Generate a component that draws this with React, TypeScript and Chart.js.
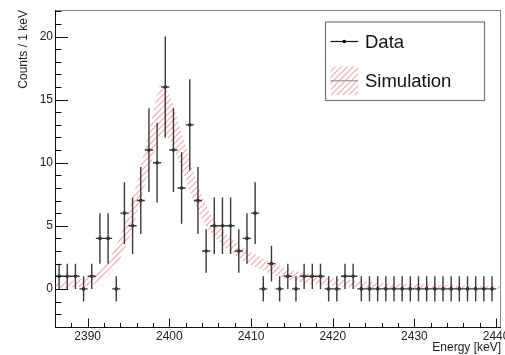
import React, { useEffect, useRef } from "react";
import { Chart, registerables } from "chart.js";

Chart.register(...registerables);

// ---- Data ----
const binCenters = [
  2386.5, 2387.5, 2388.5, 2389.5, 2390.5, 2391.5, 2392.5, 2393.5, 2394.5, 2395.5,
  2396.5, 2397.5, 2398.5, 2399.5, 2400.5, 2401.5, 2402.5, 2403.5, 2404.5, 2405.5,
  2406.5, 2407.5, 2408.5, 2409.5, 2410.5, 2411.5, 2412.5, 2413.5, 2414.5, 2415.5,
  2416.5, 2417.5, 2418.5, 2419.5, 2420.5, 2421.5, 2422.5, 2423.5, 2424.5, 2425.5,
  2426.5, 2427.5, 2428.5, 2429.5, 2430.5, 2431.5, 2432.5, 2433.5, 2434.5, 2435.5,
  2436.5, 2437.5, 2438.5, 2439.5,
];
const counts = [
  1, 1, 1, 0, 1, 4, 4, 0, 6, 5,
  7, 11, 10, 16, 11, 8, 13, 7, 3, 5,
  5, 5, 3, 4, 6, 0, 2, 0, 1, 0,
  1, 1, 1, 0, 0, 1, 1, 0, 0, 0,
  0, 0, 0, 0, 0, 0, 0, 0, 0, 0,
  0, 0, 0, 0,
];
const countErrors = [
  1, 1, 1, 1, 1, 2, 2, 1, 2.45, 2.24,
  2.65, 3.32, 3.16, 4, 3.32, 2.83, 3.61, 2.65, 1.73, 2.24,
  2.24, 2.24, 1.73, 2, 2.45, 1, 1.41, 1, 1, 1,
  1, 1, 1, 1, 1, 1, 1, 1, 1, 1,
  1, 1, 1, 1, 1, 1, 1, 1, 1, 1,
  1, 1, 1, 1,
];
const binHalfWidth = 0.5;

const simEnergy = [
  2386, 2387, 2388, 2389, 2390, 2391, 2392, 2393, 2394, 2395,
  2396, 2397, 2398, 2399, 2400, 2401, 2402, 2403, 2404, 2405,
  2406, 2407, 2408, 2409, 2410, 2411, 2412, 2413, 2414, 2415,
  2416, 2417, 2418, 2419, 2420, 2421, 2422, 2423, 2424, 2425,
  2426, 2427, 2428, 2429, 2430, 2431, 2432, 2433, 2434, 2435,
  2436, 2437, 2438, 2439, 2440, 2441,
];
const simLower = [
  0.0, 0.05, 0.1, 0.15, 0.25, 0.45, 0.8, 1.4, 2.4, 3.9,
  5.9, 8.2, 10.4, 12.2, 11.8, 10.4, 8.6, 6.9, 5.5, 4.5,
  3.8, 3.2, 2.7, 2.2, 1.9, 1.6, 1.3, 1.05, 0.85, 0.7,
  0.55, 0.45, 0.35, 0.28, 0.22, 0.17, 0.13, 0.1, 0.08, 0.06,
  0.05, 0.04, 0.03, 0.02, 0.02, 0.01, 0.01, 0.01, 0.01, 0.0,
  0.0, 0.0, 0.0, 0.0, 0.0, 0.0,
];
const simUpper = [
  0.45, 0.55, 0.65, 0.75, 0.9, 1.2, 1.8, 2.8, 4.2, 6.1,
  8.4, 11.1, 13.9, 16.2, 15.4, 13.4, 11.3, 9.2, 7.4, 6.0,
  5.0, 4.3, 3.8, 3.3, 2.9, 2.6, 2.2, 1.95, 1.7, 1.5,
  1.35, 1.2, 1.05, 0.95, 0.85, 0.78, 0.7, 0.63, 0.57, 0.52,
  0.48, 0.45, 0.42, 0.4, 0.38, 0.36, 0.34, 0.32, 0.3, 0.29,
  0.28, 0.27, 0.25, 0.24, 0.22, 0.2,
];

const xTickLabels = [2390, 2400, 2410, 2420, 2430, 2440];
const yTickLabels = [0, 5, 10, 15, 20];
const xRange = [2386, 2440.6];
const yRange = [-3.1, 22.1];

const FONT = "'Liberation Sans', Arial, Helvetica, sans-serif";

function makeHatch(): CanvasPattern | string {
  const s = 6;
  const c = document.createElement("canvas");
  c.width = s;
  c.height = s;
  const g = c.getContext("2d");
  if (!g) return "rgba(240,120,120,0.5)";
  g.strokeStyle = "rgba(240,95,95,0.55)";
  g.lineWidth = 1.1;
  g.beginPath();
  g.moveTo(0, s);
  g.lineTo(s, 0);
  g.moveTo(-1, 1);
  g.lineTo(1, -1);
  g.moveTo(s - 1, s + 1);
  g.lineTo(s + 1, s - 1);
  g.stroke();
  const p = g.createPattern(c, "repeat");
  return p || "rgba(240,120,120,0.5)";
}

export default function App() {
  const ref = useRef<HTMLCanvasElement | null>(null);

  useEffect(() => {
    document.body.style.margin = "0";
    const canvas = ref.current;
    if (!canvas) return;
    const hatch = makeHatch();

    const rootPlugin = {
      id: "rootStyle",
      afterDatasetsDraw(chart: any) {
        const { ctx } = chart;
        const xs = chart.scales.x;
        const ys = chart.scales.y;
        const ca = chart.chartArea;
        ctx.save();
        ctx.beginPath();
        ctx.rect(ca.left, ca.top, ca.right - ca.left, ca.bottom - ca.top);
        ctx.clip();
        ctx.strokeStyle = "#3a3a3a";
        ctx.lineWidth = 1.4;
        ctx.beginPath();
        for (let i = 0; i < binCenters.length; i++) {
          const x = xs.getPixelForValue(binCenters[i]);
          const y = ys.getPixelForValue(counts[i]);
          const y1 = ys.getPixelForValue(counts[i] + countErrors[i]);
          const y2 = ys.getPixelForValue(counts[i] - countErrors[i]);
          const xl = xs.getPixelForValue(binCenters[i] - binHalfWidth);
          const xr = xs.getPixelForValue(binCenters[i] + binHalfWidth);
          ctx.moveTo(x, y1);
          ctx.lineTo(x, y2);
          ctx.moveTo(xl, y);
          ctx.lineTo(xr, y);
        }
        ctx.stroke();
        ctx.restore();
      },
      afterDraw(chart: any) {
        const { ctx } = chart;
        const xs = chart.scales.x;
        const ys = chart.scales.y;
        const ca = chart.chartArea;
        ctx.save();
        // frame
        ctx.lineWidth = 1;
        ctx.strokeStyle = "#888";
        ctx.beginPath();
        ctx.moveTo(ca.left, ca.top + 0.5);
        ctx.lineTo(ca.right, ca.top + 0.5);
        ctx.moveTo(ca.right - 0.5, ca.top);
        ctx.lineTo(ca.right - 0.5, ca.bottom);
        ctx.stroke();
        ctx.strokeStyle = "#111";
        ctx.beginPath();
        ctx.moveTo(ca.left + 0.5, ca.top);
        ctx.lineTo(ca.left + 0.5, ca.bottom);
        ctx.moveTo(ca.left, ca.bottom - 0.5);
        ctx.lineTo(ca.right, ca.bottom - 0.5);
        ctx.stroke();
        // y ticks (inward)
        ctx.beginPath();
        const yMajorLen = 13;
        const yMinorLen = 6.5;
        for (let v = Math.ceil(ys.min); v <= ys.max; v++) {
          const y = Math.round(ys.getPixelForValue(v)) + 0.5;
          const len = yTickLabels.includes(v) ? yMajorLen : yMinorLen;
          ctx.moveTo(ca.left, y);
          ctx.lineTo(ca.left + len, y);
        }
        // x ticks (inward)
        const xMajorLen = 9.5;
        const xMinorLen = 5;
        for (let v = Math.ceil(xs.min / 2) * 2; v <= xs.max; v += 2) {
          const x = Math.round(xs.getPixelForValue(v)) + 0.5;
          const len = xTickLabels.includes(v) ? xMajorLen : xMinorLen;
          ctx.moveTo(x, ca.bottom);
          ctx.lineTo(x, ca.bottom - len);
        }
        ctx.stroke();

        // legend
        const lx = ca.left + 270;
        const ly = ca.top + 11.5;
        const lw = 159;
        const lh = 78.5;
        ctx.fillStyle = "#fff";
        ctx.fillRect(lx, ly, lw, lh);
        ctx.strokeStyle = "#777";
        ctx.lineWidth = 1.2;
        ctx.strokeRect(lx + 0.5, ly + 0.5, lw, lh);
        // Data entry
        const sx0 = lx + 5.5;
        const sx1 = lx + 33;
        const dy = ly + 20;
        ctx.strokeStyle = "#111";
        ctx.lineWidth = 1.2;
        ctx.beginPath();
        ctx.moveTo(sx0, dy);
        ctx.lineTo(sx1, dy);
        ctx.stroke();
        ctx.fillStyle = "#000";
        ctx.beginPath();
        ctx.arc((sx0 + sx1) / 2, dy, 1.8, 0, Math.PI * 2);
        ctx.fill();
        // Simulation entry
        const hy0 = ly + 45;
        const hy1 = ly + 73.5;
        ctx.fillStyle = hatch as any;
        ctx.fillRect(sx0, hy0, sx1 - sx0, hy1 - hy0);
        ctx.strokeStyle = "#999";
        ctx.lineWidth = 1.2;
        ctx.beginPath();
        ctx.moveTo(sx0, (hy0 + hy1) / 2);
        ctx.lineTo(sx1, (hy0 + hy1) / 2);
        ctx.stroke();
        ctx.fillStyle = "#111";
        ctx.font = `18.5px ${FONT}`;
        ctx.textAlign = "left";
        ctx.textBaseline = "middle";
        ctx.fillText("Data", lx + 40, dy + 1.5);
        ctx.fillText("Simulation", lx + 40, (hy0 + hy1) / 2 + 1.5);
        ctx.restore();
      },
    };

    const chart = new Chart(canvas, {
      type: "line",
      data: {
        datasets: [
          {
            label: "Data",
            data: binCenters.map((x, i) => ({ x, y: counts[i] })),
            showLine: false,
            pointRadius: 1.8,
            pointBackgroundColor: "#000",
            pointBorderColor: "#000",
            pointBorderWidth: 0,
            borderColor: "#000",
          },
          {
            label: "Simulation",
            data: simEnergy.map((x, i) => ({ x, y: simUpper[i] })),
            borderWidth: 0,
            borderColor: "rgba(0,0,0,0)",
            pointRadius: 0,
            fill: "+1",
            backgroundColor: hatch as any,
            tension: 0.4,
            cubicInterpolationMode: "monotone",
          },
          {
            label: "SimulationLow",
            data: simEnergy.map((x, i) => ({ x, y: simLower[i] })),
            borderWidth: 0,
            borderColor: "rgba(0,0,0,0)",
            pointRadius: 0,
            fill: false,
            tension: 0.4,
            cubicInterpolationMode: "monotone",
          },
        ],
      },
      plugins: [rootPlugin],
      options: {
        responsive: false,
        animation: false,
        devicePixelRatio: 1,
        layout: { padding: { top: 10, right: 3, left: 0, bottom: 0 } },
        plugins: {
          legend: { display: false },
          tooltip: { enabled: false },
        },
        scales: {
          x: {
            type: "linear",
            min: xRange[0],
            max: xRange[1],
            grid: { display: false, drawTicks: false },
            border: { display: false },
            afterBuildTicks: (s: any) => {
              s.ticks = xTickLabels.map((v) => ({ value: v }));
            },
            ticks: {
              padding: 1.5,
              autoSkip: false,
              maxRotation: 0,
              color: "#222",
              font: { family: FONT, size: 12 },
              callback: (v: any) => String(v),
            },
            title: {
              display: true,
              text: "Energy [keV]",
              align: "end",
              color: "#222",
              font: { family: FONT, size: 12 },
              padding: { top: 0, bottom: 0 },
            },
            afterFit: (s: any) => {
              s.height = 27;
              s.paddingLeft = 0;
              s.paddingRight = 0;
            },
          },
          y: {
            type: "linear",
            min: yRange[0],
            max: yRange[1],
            grid: { display: false, drawTicks: false },
            border: { display: false },
            afterBuildTicks: (s: any) => {
              s.ticks = yTickLabels.map((v) => ({ value: v }));
            },
            ticks: {
              padding: 2,
              color: "#222",
              font: { family: FONT, size: 12 },
              callback: (v: any) => String(v),
            },
            title: {
              display: true,
              text: "Counts / 1 keV",
              align: "end",
              color: "#222",
              font: { family: FONT, size: 12 },
              padding: { top: 16, bottom: 0 },
            },
            afterFit: (s: any) => {
              s.width = 55;
              s.paddingTop = 0;
              s.paddingBottom = 0;
            },
          },
        },
      } as any,
    });

    return () => chart.destroy();
  }, []);

  return (
    <div style={{ width: 505, height: 355 }}>
      <canvas ref={ref} width={505} height={355} style={{ display: "block" }} />
    </div>
  );
}
